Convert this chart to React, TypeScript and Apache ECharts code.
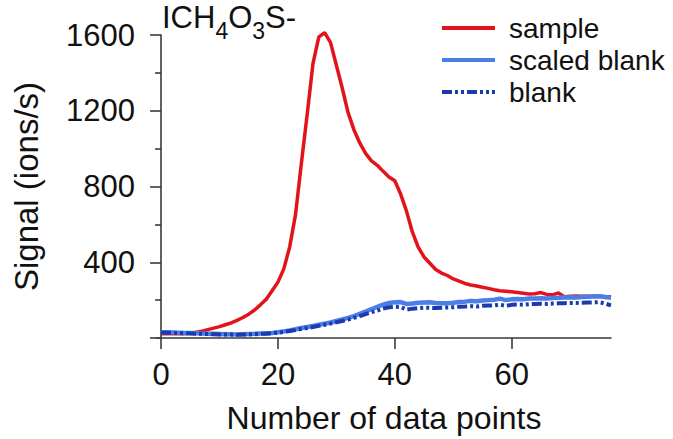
import React, { useEffect, useRef } from "react";
import * as echarts from "echarts";

const xValues: number[] = Array.from({ length: 78 }, (_, i) => i);

const sample: number[] = [
  22, 22, 22, 22, 23, 26, 30, 36, 44, 52,
  60, 70, 80, 93, 108, 126, 148, 175, 205, 250,
  295, 365, 480, 650, 920, 1180, 1450, 1590, 1612, 1560,
  1440, 1320, 1190, 1100, 1030, 975, 935, 912, 880, 850,
  830, 760, 670, 560, 480, 428, 395, 362, 343, 330,
  312, 300, 288, 280, 275, 268, 262, 255, 250, 247,
  244, 240, 236, 232, 234, 240, 230, 228, 238, 218,
  220, 222, 220, 220, 221, 220, 218, 218,
];

const scaledBlank: number[] = [
  30, 30, 29, 28, 27, 26, 25, 24, 23, 22,
  21, 20, 20, 19, 20, 21, 22, 24, 25, 27,
  30, 35, 40, 46, 53, 58, 64, 70, 76, 82,
  90, 98, 106, 116, 128, 140, 152, 165, 176, 185,
  189, 190, 180, 182, 186, 188, 189, 185, 184, 183,
  186, 190, 192, 196, 194, 198, 200, 202, 208, 200,
  204, 206, 205, 209, 208, 210, 208, 211, 212, 214,
  215, 214, 216, 218, 219, 220, 216, 212,
];

const blank: number[] = [
  28, 28, 27, 26, 25, 24, 23, 22, 21, 20,
  19, 18, 18, 17, 18, 19, 20, 22, 23, 25,
  28, 32, 37, 42, 48, 53, 58, 64, 70, 76,
  83, 90, 97, 106, 116, 126, 136, 145, 155, 162,
  165, 164, 150, 155, 158, 160, 159, 158, 160, 161,
  163, 165, 166, 168, 166, 170, 172, 172, 176, 170,
  175, 177, 176, 179, 180, 181, 180, 182, 183, 184,
  185, 185, 186, 187, 188, 189, 182, 172,
];

const xTicks: number[] = [0, 20, 40, 60];
const seriesNames: string[] = ["sample", "scaled blank", "blank"];

const FONT = "'Liberation Sans', Arial, sans-serif";
const AXIS_COLOR = "#3a3a3a";

export default function App() {
  const ref = useRef<HTMLDivElement>(null);

  useEffect(() => {
    if (!ref.current) return;
    const chart = echarts.init(ref.current, undefined, { renderer: "svg" });
    const pair = (ys: number[]) => xValues.map((x, i) => [x, ys[i]]);

    chart.setOption({
      animation: false,
      backgroundColor: "#ffffff",
      textStyle: { fontFamily: FONT },
      title: {
        left: 162,
        top: 11,
        padding: 0,
        text: "{a|ICH}{s|4}{a|O}{s|3}{a|S-}",
        textStyle: {
          fontWeight: "normal",
          rich: {
            a: { fontSize: 31, lineHeight: 31, color: "#111", fontWeight: "normal", fontFamily: FONT, padding: [0, 0, 9, 0], verticalAlign: "bottom" },
            s: { fontSize: 23, lineHeight: 23, color: "#111", fontWeight: "normal", fontFamily: FONT, verticalAlign: "bottom" },
          },
        },
      },
      legend: {
        orient: "vertical",
        left: 440,
        top: 12,
        padding: 0,
        itemGap: 0,
        itemWidth: 53,
        itemHeight: 14,
        data: seriesNames,
        itemStyle: { opacity: 0 },
        lineStyle: { width: 4 },
        textStyle: { fontSize: 28, lineHeight: 32, color: "#111", fontFamily: FONT, padding: [0, 0, 0, 9] },
      },
      grid: { left: 157, right: 62, top: 35, bottom: 96, containLabel: false },
      xAxis: {
        type: "value",
        min: -0.7,
        max: 77,
        name: "Number of data points",
        nameLocation: "middle",
        nameGap: 64,
        nameTextStyle: { fontSize: 32, color: "#111", fontFamily: FONT },
        axisLine: { show: true, lineStyle: { color: AXIS_COLOR, width: 1.6 } },
        axisTick: { show: true, customValues: xTicks, length: 11, inside: false, lineStyle: { color: AXIS_COLOR, width: 1.6 } },
        axisLabel: { customValues: xTicks, fontSize: 31, color: "#111", margin: 21, fontFamily: FONT },
        splitLine: { show: false },
      },
      yAxis: {
        type: "value",
        min: 0,
        max: 1600,
        interval: 400,
        name: "Signal (ions/s)",
        nameLocation: "middle",
        nameGap: 114,
        nameTextStyle: { fontSize: 33, color: "#111", fontFamily: FONT },
        axisLine: { show: true, lineStyle: { color: AXIS_COLOR, width: 1.6 } },
        axisTick: { show: true, length: 11, lineStyle: { color: AXIS_COLOR, width: 1.6 } },
        minorTick: { show: true, splitNumber: 2, length: 6, lineStyle: { color: AXIS_COLOR, width: 1.6 } },
        axisLabel: {
          fontSize: 31,
          color: "#111",
          margin: 22,
          fontFamily: FONT,
          formatter: (v: number) => (v === 0 ? "" : String(v)),
        },
        splitLine: { show: false },
        minorSplitLine: { show: false },
      },
      series: [
        {
          name: seriesNames[0],
          type: "line",
          data: pair(sample),
          showSymbol: false,
          symbol: "none",
          clip: false,
          lineStyle: { color: "#e3131b", width: 3.5 },
          itemStyle: { color: "#e3131b" },
        },
        {
          name: seriesNames[1],
          type: "line",
          data: pair(scaledBlank),
          showSymbol: false,
          symbol: "none",
          clip: false,
          lineStyle: { color: "#4a7fe8", width: 4.5 },
          itemStyle: { color: "#4a7fe8" },
        },
        {
          name: seriesNames[2],
          type: "line",
          data: pair(blank),
          showSymbol: false,
          symbol: "none",
          clip: false,
          lineStyle: { color: "#1a3aaf", width: 4, type: [10, 3, 3, 3, 3, 3] },
          itemStyle: { color: "#1a3aaf" },
        },
      ],
    });

    return () => chart.dispose();
  }, []);

  return (
    <div
      ref={ref}
      style={{ position: "fixed", left: 0, top: 0, width: 673, height: 439, background: "#fff" }}
    />
  );
}
